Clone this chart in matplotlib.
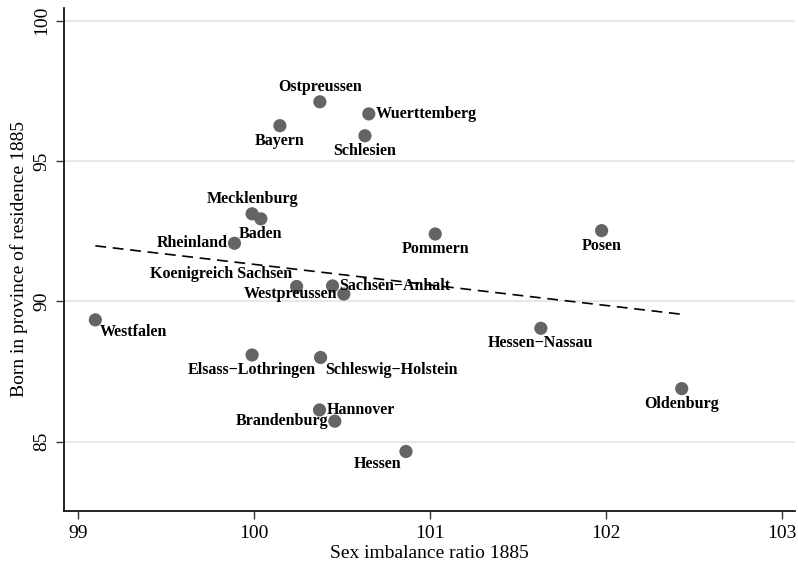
"""
Scatter of native-born share against sex imbalance by Prussian/German province, 1885.
"""

import matplotlib
matplotlib.use('Agg')
import matplotlib.pyplot as plt
import numpy as np

provinces = ['Ostpreussen', 'Wuerttemberg', 'Bayern', 'Schlesien', 'Mecklenburg',
             'Baden', 'Rheinland', 'Pommern', 'Posen', 'Koenigreich Sachsen',
             'Sachsen\u2212Anhalt', 'Westpreussen', 'Westfalen', 'Hessen\u2212Nassau',
             'Elsass\u2212Lothringen', 'Schleswig\u2212Holstein', 'Hannover',
             'Brandenburg', 'Hessen', 'Oldenburg']
sex_ratio = [100.375, 100.653, 100.148, 100.631, 99.990,
             100.040, 99.890, 101.030, 101.975, 100.243,
             100.447, 100.511, 99.100, 101.630,
             99.990, 100.379, 100.373,
             100.460, 100.864, 102.430]
born_share = [97.11, 96.68, 96.26, 95.90, 93.12,
              92.94, 92.07, 92.40, 92.52, 90.53,
              90.55, 90.26, 89.34, 89.04,
              88.09, 88.00, 86.13,
              85.73, 84.65, 86.89]
# label placement as clock positions around each marker
label_pos = [12, 3, 6, 6, 12,
             6, 9, 6, 6, 10,
             3, 9, 4, 6,
             6, 4, 3,
             9, 7, 6]

# offsets (points) and alignment for each clock position
clock = {
    12: ((0, 5), 'center', 'bottom'),
    6: ((0, -5), 'center', 'top'),
    3: ((5, 0), 'left', 'center'),
    9: ((-5, 0), 'right', 'center'),
    10: ((-3, 3), 'right', 'bottom'),
    4: ((3, -3), 'left', 'top'),
    7: ((-3, -3), 'right', 'top'),
}

plt.rcParams['font.family'] = ['Liberation Serif', 'DejaVu Serif']

fig = plt.figure(figsize=(7.98, 5.66), dpi=100)
ax = fig.add_axes([0.0802, 0.0972, 0.916, 0.889])

x = np.array(sex_ratio)
y = np.array(born_share)

ax.scatter(x, y, s=90, c='#646464', edgecolors='none', zorder=3)

for name, xi, yi, pos in zip(provinces, x, y, label_pos):
    off, ha, va = clock[pos]
    ax.annotate(name, (xi, yi), xytext=off, textcoords='offset points',
                ha=ha, va=va, fontsize=11.5, fontweight='bold', color='black',
                zorder=4)

# linear fit over the observed range
slope, icpt = np.polyfit(x, y, 1)
xs = np.array([x.min(), x.max()])
ax.plot(xs, icpt + slope * xs, color='black', linestyle=(0, (6.5, 4)),
        linewidth=1.2, zorder=2)

ax.set_xlim(98.922, 103.073)
ax.set_ylim(82.53, 100.46)
ax.set_xticks([99, 100, 101, 102, 103])
ax.set_yticks([85, 90, 95, 100])
ax.yaxis.grid(True, color='#e8e8e8', linewidth=1.5)
ax.set_axisbelow(True)

for side in ['top', 'right']:
    ax.spines[side].set_visible(False)
for side in ['left', 'bottom']:
    ax.spines[side].set_linewidth(1.2)
    ax.spines[side].set_color('black')

ax.tick_params(axis='both', direction='out', length=6, width=1,
               color='#333333', labelsize=14, pad=4)
plt.setp(ax.get_yticklabels(), rotation=90, va='center')

ax.set_xlabel('Sex imbalance ratio 1885', fontsize=14, labelpad=2)
ax.set_ylabel('Born in province of residence 1885', fontsize=14, labelpad=4)

fig.savefig('out.png', dpi=100)
